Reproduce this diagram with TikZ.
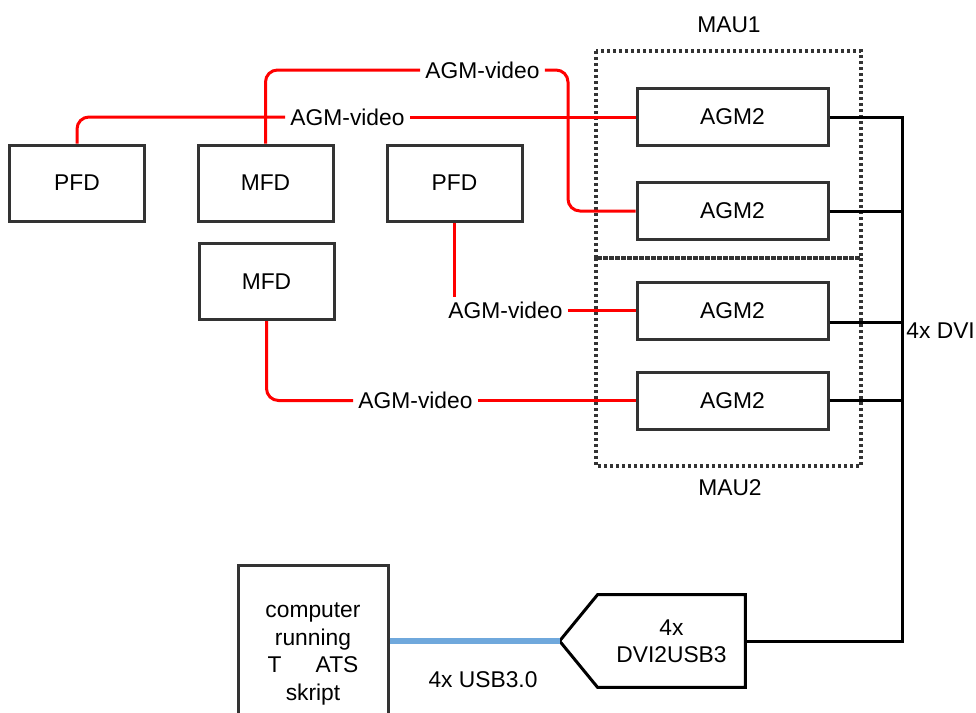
\documentclass[tikz,border=0pt]{standalone}
\usepackage{fontspec}
\setmainfont{Liberation Sans}
\usetikzlibrary{positioning,calc}
\definecolor{boxgray}{HTML}{333333}
\definecolor{usbblue}{HTML}{6FA8DC}

\begin{document}
\begin{tikzpicture}[
  x=0.5pt, y=-0.5pt,
  every node/.style={align=center, font=\fontsize{11.4}{13.7}\selectfont},
  unit/.style={draw=boxgray, line width=1.5pt, minimum width=67.5pt, minimum height=38pt, inner sep=2pt},
  agm/.style={draw=boxgray, line width=1.5pt, minimum width=95.5pt, minimum height=28.5pt, inner sep=2pt},
  vid/.style={inner sep=2.5pt},
  video/.style={draw=red, line width=1.5pt, rounded corners=6pt},
  dvi/.style={draw=black, line width=1.5pt},
  usb/.style={draw=usbblue, line width=3pt},
  mau/.style={draw=boxgray, line width=1.6pt, dash pattern=on 1.4pt off 1.6pt}
]
\useasboundingbox (0,0) rectangle (976,713);

% --- MAU frames ---
\draw[mau] (596,51) rectangle (861,258);
\draw[mau] (596,258) rectangle (861,466);
\node (mauone) at (729,25) {MAU1};
\node (mautwo) at (730,488) {MAU2};

% --- Displays ---
\node[unit] (pfda) at (77,183) {PFD};
\node[unit] (mfda) at (265.5,183) {MFD};
\node[unit] (pfdb) at (454.5,183) {PFD};
\node[unit] (mfdb) at (266.5,281.5) {MFD};

% --- AGM2 units ---
\node[agm] (agma) at (732.5,117) {AGM2};
\node[agm] (agmb) at (732.5,211) {AGM2};
\node[agm] (agmc) at (732.5,310.5) {AGM2};
\node[agm] (agmd) at (732.5,400.5) {AGM2};

% --- Video labels ---
\node[vid] (vida) at (482.5,70) {AGM-video};
\node[vid] (vidb) at (347.5,117) {AGM-video};
\node[vid] (vidc) at (505.5,310.5) {AGM-video};
\node[vid] (vidd) at (415.5,400.5) {AGM-video};

% --- Video links ---
\coordinate (benda) at (568,211);
\draw[video] (mfda.north) |- (vida.west);
\draw[video] (vida.east) -| (benda) -- (agmb.west);
\draw[video] (pfda.north) |- (vidb.west);
\draw[video] (vidb.east) -- (agma.west);
\draw[video] (pfdb.south) -- (pfdb.south |- vidc.north);
\draw[video] (vidc.east) -- (agmc.west);
\draw[video] (mfdb.south) |- (vidd.west);
\draw[video] (vidd.east) -- (agmd.west);

% --- Converter and computer ---
\node[minimum width=73.5pt, minimum height=46pt, inner sep=0pt] (conv) at (671.5,641) {4x\\DVI2USB3};
\coordinate (convtip) at ($(conv.west)+(-38,0)$);
\draw[dvi] (conv.north west) -- (conv.north east) -- (conv.south east) -- (conv.south west) -- (convtip) -- cycle;

\node[unit, minimum width=75pt, minimum height=89pt] (comp) at (313,654) {computer\\running\\T\hspace{1.5em}ATS\hspace*{1.3em}\\skript};
\draw[usb] (comp.east |- convtip) -- (convtip);
\node (usblbl) at (483,680) {4x USB3.0};

% --- DVI bus ---
\coordinate (bustop) at (902,117);
\coordinate (busend) at (902,641);
\coordinate (dvic) at ($(agmc.east)!0.4!(agmc.south east)$);
\draw[dvi] (agma.east) -- (bustop) -- (busend) -- (conv.east);
\draw[dvi] (agmb.east) -- (agmb.east -| bustop);
\draw[dvi] (dvic) -- (dvic -| bustop);
\draw[dvi] (agmd.east) -- (agmd.east -| bustop);
\node[anchor=west, inner sep=0pt] (dvilbl) at (906,331) {4x DVI};

\end{tikzpicture}
\end{document}
